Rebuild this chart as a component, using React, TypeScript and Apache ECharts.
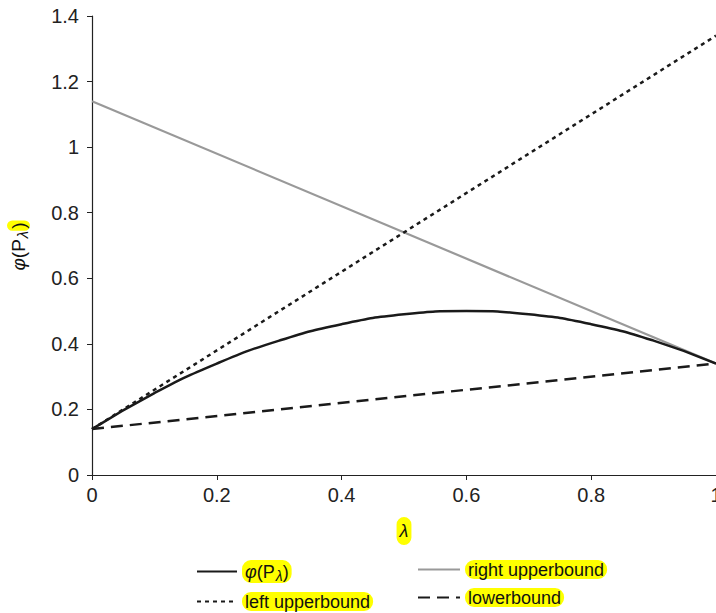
import React, { useEffect, useRef } from "react";
import * as echarts from "echarts";

const lambdas = [0, 0.1, 0.2, 0.3, 0.4, 0.5, 0.6, 0.7, 0.8, 0.9, 1.0];
const phiValues = [0.14, 0.25, 0.34, 0.41, 0.46, 0.49, 0.5, 0.49, 0.46, 0.41, 0.34];
const boundLambdas = [0, 1];
const rightUpper = [1.14, 0.34];
const leftUpper = [0.14, 1.34];
const lowerBound = [0.14, 0.34];
const seriesNames = ["phi", "right upperbound", "left upperbound", "lowerbound"];

const FONT = "'Liberation Sans', Arial, Helvetica, sans-serif";
const HL = "#ffff00";

export default function App() {
  const ref = useRef<HTMLDivElement>(null);
  useEffect(() => {
    document.body.style.margin = "0";
    const chart = echarts.init(ref.current!, null, { renderer: "svg" });
    const pair = (xs: number[], ys: number[]) => xs.map((x, i) => [x, ys[i]]);
    const legendText = {
      fontFamily: FONT,
      fontSize: 18,
      color: "#111",
      backgroundColor: HL,
      borderRadius: 9,
      padding: [1, 3, 0, 3],
      rich: {
        i: { fontFamily: FONT, fontSize: 18, fontStyle: "italic", color: "#111" },
        a: { fontFamily: FONT, fontSize: 18, color: "#111" },
        s: { fontFamily: FONT, fontSize: 14, fontStyle: "italic", color: "#111", verticalAlign: "bottom", padding: [8, 0, 0, 1] },
      },
    };
    const fmt = (name: string) => (name === "phi" ? "{i|φ}{a|(P}{s|λ}{a|)}" : name);
    const legendCommon = {
      orient: "vertical",
      top: 560,
      height: 70,
      padding: 0,
      itemHeight: 14,
      itemGap: 9,
      formatter: fmt,
      textStyle: legendText,
      selectedMode: false,
      itemStyle: { opacity: 0 },
    };
    chart.setOption({
      animation: false,
      textStyle: { fontFamily: FONT },
      grid: { left: 92, top: 16, right: 0, bottom: 138, containLabel: false, outerBoundsMode: "none" },
      legend: [
        { ...legendCommon, data: ["phi", "left upperbound"], left: 196, itemWidth: 40 },
        { ...legendCommon, data: ["right upperbound", "lowerbound"], left: 417, itemWidth: 42 },
      ],
      xAxis: {
        type: "value",
        min: 0,
        max: 1,
        interval: 0.2,
        name: "λ",
        nameLocation: "middle",
        nameGap: 42,
        nameTextStyle: {
          fontFamily: FONT,
          fontSize: 18,
          fontStyle: "italic",
          color: "#111",
          backgroundColor: HL,
          borderRadius: 10,
          padding: [5, 3, 5, 3],
        },
        axisLine: { show: true, lineStyle: { color: "#222", width: 1.2 } },
        axisTick: { show: true, length: 5, lineStyle: { color: "#222" } },
        axisLabel: { fontSize: 20, color: "#222", fontFamily: FONT, margin: 10 },
        splitLine: { show: false },
      },
      yAxis: {
        type: "value",
        min: 0,
        max: 1.4,
        interval: 0.2,
        name: "{i|φ}{a|(P}{s|λ}{h|)}",
        nameLocation: "middle",
        nameGap: 62,
        nameTextStyle: {
          rich: {
            i: { fontFamily: FONT, fontSize: 19, fontStyle: "italic", color: "#111" },
            a: { fontFamily: FONT, fontSize: 19, color: "#111" },
            s: { fontFamily: FONT, fontSize: 15, fontStyle: "italic", color: "#111", verticalAlign: "bottom", padding: [8, 0, 0, 1] },
            h: { fontFamily: FONT, fontSize: 19, color: "#111", backgroundColor: HL, borderRadius: 8, padding: [2, 2, 2, 2] },
          },
        },
        axisLine: { show: true, lineStyle: { color: "#222", width: 1.2 } },
        axisTick: { show: true, length: 5, lineStyle: { color: "#222" } },
        axisLabel: { fontSize: 20, color: "#222", fontFamily: FONT, margin: 13 },
        splitLine: { show: false },
      },
      series: [
        {
          name: seriesNames[0],
          type: "line",
          smooth: true,
          symbol: "none",
          data: pair(lambdas, phiValues),
          lineStyle: { color: "#1a1a1a", width: 2.5 },
          itemStyle: { color: "#1a1a1a" },
          z: 4,
        },
        {
          name: seriesNames[1],
          type: "line",
          symbol: "none",
          data: pair(boundLambdas, rightUpper),
          lineStyle: { color: "#999999", width: 2.2 },
          itemStyle: { color: "#999999" },
          z: 3,
        },
        {
          name: seriesNames[2],
          type: "line",
          symbol: "none",
          data: pair(boundLambdas, leftUpper),
          lineStyle: { color: "#1a1a1a", width: 2.5, type: [4, 4] },
          itemStyle: { color: "#1a1a1a" },
          z: 3,
        },
        {
          name: seriesNames[3],
          type: "line",
          symbol: "none",
          data: pair(boundLambdas, lowerBound),
          lineStyle: { color: "#1a1a1a", width: 2.5, type: [12, 7] },
          itemStyle: { color: "#1a1a1a" },
          z: 3,
        },
      ],
    });
    return () => chart.dispose();
  }, []);
  return <div ref={ref} style={{ width: 716, height: 613 }} />;
}
